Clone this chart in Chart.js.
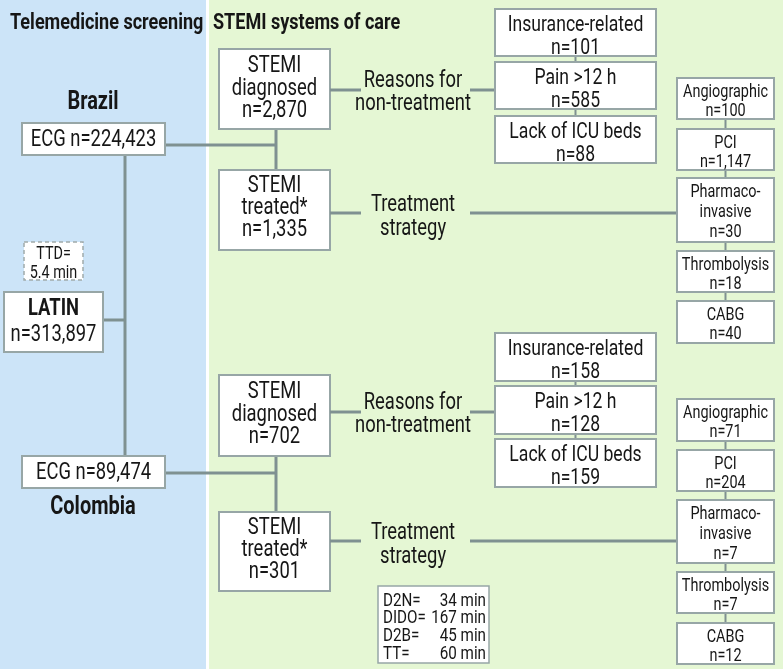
<!DOCTYPE html>
<html>
<head>
<meta charset="utf-8">
<script src="https://cdn.jsdelivr.net/npm/chart.js@4/dist/chart.umd.min.js"></script>
<style>
  html, body { margin: 0; padding: 0; background: #fff; }
  #wrap { width: 783px; height: 670px; }
</style>
</head>
<body>
<div id="wrap"><canvas id="flow" width="783" height="670"></canvas></div>
<script>
// ---- data ----
const countries = ['Brazil', 'Colombia'];
const ecgCounts = [224423, 89474];
const diagnosedCounts = [2870, 702];
const treatedCounts = [1335, 301];
const reasonLabels = ['Insurance-related', 'Pain >12 h', 'Lack of ICU beds'];
const reasonsBrazil = [101, 585, 88];
const reasonsColombia = [158, 128, 159];
const strategyLabels = [['Angiographic'], ['PCI'], ['Pharmaco-', 'invasive'], ['Thrombolysis'], ['CABG']];
const strategyBrazil = [100, 1147, 30, 18, 40];
const strategyColombia = [71, 204, 7, 7, 12];
const latinTotal = 313897;
const ttdMinutes = 5.4;
const timeLabels = ['D2N=', 'DIDO=', 'D2B=', 'TT='];
const timeMinutes = [34, 167, 45, 60];

const fmt = v => v.toLocaleString('en-US');

// ---- layout (figure units, mapped through the chart scales) ----
const blocks = [
  { ecg: [123, 155], nameY: 102, ecgLineY: 145, diag: [49, 129], treat: [170, 250],
    reasonY: 90, treatY: 213, reasonTops: [9, 62, 116], reasonH: 47,
    stratBoxes: [[78, 119], [129, 170], [178, 242], [251, 292], [301, 343]],
    reasons: reasonsBrazil, strat: strategyBrazil },
  { ecg: [456, 488], nameY: 507, ecgLineY: 473, diag: [375, 456], treat: [512, 591],
    reasonY: 412, treatY: 541, reasonTops: [333, 386, 439], reasonH: 48,
    stratBoxes: [[399, 441], [450, 491], [500, 563], [572, 613], [623, 664]],
    reasons: reasonsColombia, strat: strategyColombia }
];

const BLUE = '#cce4f8', GREEN = '#e5f7d4', BORDER = '#97a6a6', LINE = '#7f9191', INK = '#161616';
const FONT = 'Roboto, "Liberation Sans", sans-serif';
const SQUEEZE = 0.8;

const flowPlugin = {
  id: 'flow',
  afterDraw(chart) {
    const ctx = chart.ctx;
    const sx = chart.scales.x, sy = chart.scales.y;
    const X = v => sx.getPixelForValue(v);
    const Y = v => sy.getPixelForValue(v);

    function rect(x0, y0, x1, y1, fill) {
      ctx.fillStyle = fill;
      ctx.fillRect(X(x0), Y(y0), X(x1) - X(x0), Y(y1) - Y(y0));
    }
    function box(x0, y0, x1, y1, opts = {}) {
      ctx.save();
      ctx.fillStyle = '#fff';
      ctx.fillRect(X(x0), Y(y0), X(x1) - X(x0), Y(y1) - Y(y0));
      ctx.strokeStyle = opts.color || BORDER;
      ctx.lineWidth = opts.width || 2;
      if (opts.dash) ctx.setLineDash(opts.dash);
      ctx.strokeRect(X(x0), Y(y0), X(x1) - X(x0), Y(y1) - Y(y0));
      ctx.restore();
    }
    function line(pts, w = 3, color = LINE) {
      ctx.save();
      ctx.strokeStyle = color;
      ctx.lineWidth = w;
      ctx.beginPath();
      pts.forEach(([px, py], i) => i ? ctx.lineTo(X(px), Y(py)) : ctx.moveTo(X(px), Y(py)));
      ctx.stroke();
      ctx.restore();
    }
    function text(str, x, y, size, opts = {}) {
      ctx.save();
      ctx.font = (opts.bold ? 'bold ' : '') + size + 'px ' + FONT;
      ctx.fillStyle = INK;
      ctx.textAlign = opts.align || 'center';
      ctx.textBaseline = 'middle';
      ctx.translate(X(x), Y(y + 2));
      ctx.scale(opts.squeeze || SQUEEZE, 1);
      ctx.fillText(str, 0, 0);
      ctx.restore();
    }
    function lines(arr, cx, ys, size, opts) {
      arr.forEach((s, i) => text(s, cx, ys[i], size, opts));
    }

    // panels
    rect(0, 0, 206, 669, BLUE);
    rect(209, 0, 783, 669, GREEN);

    text('Telemedicine screening', 10, 21, 22, { bold: true, align: 'left', squeeze: 0.82 });
    text('STEMI systems of care', 213, 21, 22, { bold: true, align: 'left', squeeze: 0.82 });

    // trunk linking the two countries to LATIN
    line([[125, 155], [125, 456]]);
    line([[103, 320], [125, 320]]);

    box(24, 242, 83, 280, { dash: [4, 3], width: 1.5, color: '#a0aaaa' });
    lines(['TTD=', ttdMinutes + ' min'], 53.5, [252, 271], 18);

    box(4, 292, 103, 352);
    text('LATIN', 53.5, 307, 23, { bold: true });
    text('n=' + fmt(latinTotal), 53.5, 333, 23);

    blocks.forEach((b, k) => {
      // country ECG
      line([[165, b.ecgLineY], [276, b.ecgLineY]]);
      line([[276, b.diag[1]], [276, b.treat[0]]]);
      box(22, b.ecg[0], 165, b.ecg[1]);
      text('ECG n=' + fmt(ecgCounts[k]), 93.5, (b.ecg[0] + b.ecg[1]) / 2 - 1, 23);
      text(countries[k], 93, b.nameY - 1, 25, { bold: true });

      // diagnosed / treated
      box(219, b.diag[0], 330, b.diag[1]);
      const dt = b.diag[0];
      lines(['STEMI', 'diagnosed', 'n=' + fmt(diagnosedCounts[k])], 274.5, [dt + 15, dt + 38, dt + 60], 23);
      box(219, b.treat[0], 330, b.treat[1]);
      const tt = b.treat[0];
      lines(['STEMI', 'treated*', 'n=' + fmt(treatedCounts[k])], 274.5, [tt + 14, tt + 36, tt + 58], 23);

      // reasons for non-treatment
      line([[330, b.reasonY], [361, b.reasonY]]);
      line([[470, b.reasonY], [495, b.reasonY]]);
      lines(['Reasons for', 'non-treatment'], 413, [b.reasonY - 11, b.reasonY + 12], 23);
      b.reasonTops.forEach((t, i) => {
        if (i) line([[575.5, b.reasonTops[i - 1] + b.reasonH], [575.5, t]], 2);
      });
      b.reasonTops.forEach((t, i) => {
        box(495, t, 656, t + b.reasonH);
        lines([reasonLabels[i], 'n=' + fmt(b.reasons[i])], 575.5, [t + 14, t + 37], 22);
      });

      // treatment strategy
      line([[330, b.treatY], [361, b.treatY]]);
      line([[470, b.treatY], [677, b.treatY]]);
      lines(['Treatment', 'strategy'], 413, [b.treatY - 10, b.treatY + 14], 23);
      b.stratBoxes.forEach((sb, i) => {
        if (i) line([[725.5, b.stratBoxes[i - 1][1]], [725.5, sb[0]]], 2);
      });
      b.stratBoxes.forEach((sb, i) => {
        box(677, sb[0], 774, sb[1]);
        const labs = strategyLabels[i].concat(['n=' + fmt(b.strat[i])]);
        const step = labs.length === 3 ? 20 : 19;
        labs.forEach((s, j) => text(s, 725.5, sb[0] + 12 + j * step, 19, { squeeze: 0.76 }));
      });
    });

    // time metrics box
    box(378, 586, 489, 663, { width: 1.5 });
    timeLabels.forEach((lab, i) => {
      const ty = 599 + i * 17.7;
      text(lab, 383, ty, 19, { align: 'left' });
      text(timeMinutes[i] + ' min', 486, ty, 19, { align: 'right' });
    });
  }
};

new Chart(document.getElementById('flow'), {
  type: 'scatter',
  data: { datasets: [{ data: [], pointRadius: 0 }] },
  options: {
    responsive: false,
    animation: false,
    layout: { padding: 0 },
    plugins: { legend: { display: false }, tooltip: { enabled: false } },
    scales: {
      x: { type: 'linear', min: 0, max: 783, display: false },
      y: { type: 'linear', min: 0, max: 670, reverse: true, display: false }
    }
  },
  plugins: [flowPlugin]
});
</script>
</body>
</html>
